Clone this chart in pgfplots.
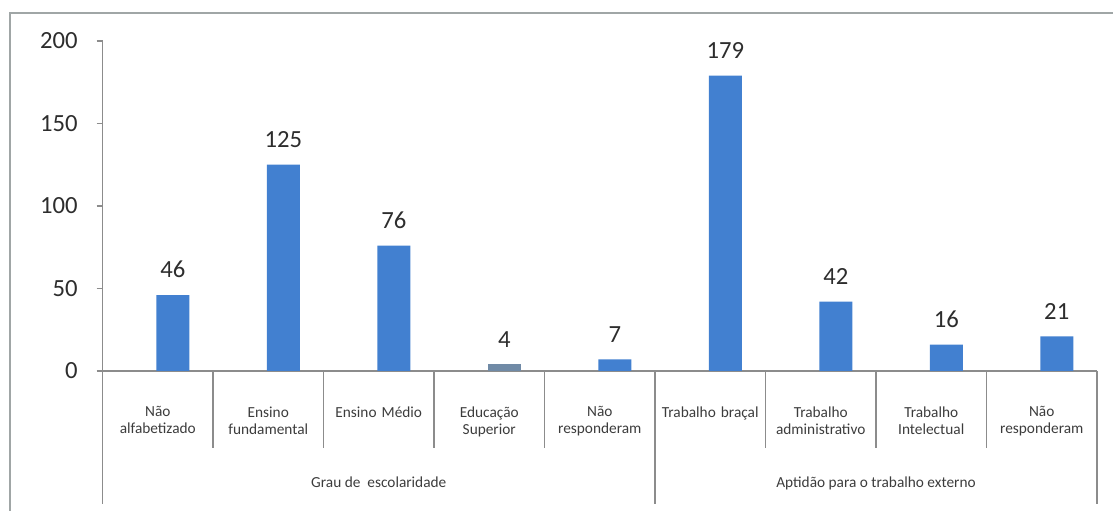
\documentclass[border=0pt]{standalone}
\usepackage{fontspec}
\setmainfont{Carlito}
\usepackage{pgfplots}
\pgfplotsset{compat=1.18}

\definecolor{barblue}{RGB}{66,128,208}
\definecolor{bargray}{RGB}{112,138,166}
\definecolor{framegray}{RGB}{160,166,166}
\definecolor{axisgray}{RGB}{140,140,140}
\definecolor{txt}{RGB}{45,45,45}
\definecolor{cattxt}{RGB}{60,60,60}

\begin{document}
\begin{tikzpicture}
\useasboundingbox (-76.9pt,-105pt) rectangle (757.9pt,278.25pt);
% outer chart frame (only top and left edges are visible)
\draw[framegray, line width=1.2pt] (-69.4pt,-110pt) -- (-69.4pt,268.5pt) -- (765pt,268.5pt);
\begin{axis}[
  at={(0,0)}, anchor=south west,
  scale only axis, width=745.9pt, height=247.5pt,
  xmin=-0.5, xmax=8.5, ymin=0, ymax=200,
  axis x line*=bottom, axis y line*=left,
  axis line style={axisgray, line width=1pt},
  ytick={0,50,...,200},
  ytick style={axisgray, line width=1pt},
  tick align=outside, major tick length=4.5pt,
  xtick={0,...,8},
  xtick style={draw=none},
  xticklabels={{Não\\alfabetizado},{Ensino\\fundamental},{Ensino Médio},{Educação\\Superior},{Não\\responderam},{Trabalho braçal},{Trabalho\\administrativo},{Trabalho\\Intelectual},{Não\\responderam}},
  xticklabel style={font=\fontsize{11.5}{12.75}\selectfont, text=cattxt, align=center, text width=82pt, anchor=north, inner sep=0pt, yshift=-22pt},
  yticklabel style={font=\fontsize{18.5}{22}\selectfont, text=txt, anchor=east, inner sep=0pt, xshift=-14pt},
  /pgf/number format/assume math mode=true,
  ybar, bar width=24.75pt,
  nodes near coords,
  every node near coord/.append style={font=\fontsize{18.5}{22}\selectfont, text=txt, anchor=south, inner sep=0pt, yshift=12.75pt},
  clip=false,
]
\addplot[fill=barblue, draw=none, bar shift=11.25pt] coordinates {
  (0,46) (1,125) (2,76) (4,7) (5,179) (6,42) (7,16) (8,21)
};
\addplot[fill=bargray, draw=none, bar shift=11.25pt] coordinates {(3,4)};
% category separators
\pgfplotsinvokeforeach{0.5,1.5,2.5,3.5,5.5,6.5,7.5}{
  \draw[axisgray, line width=1pt] (axis cs:#1,0) -- ++(0pt,-57.75pt);
}
% group separators
\pgfplotsinvokeforeach{-0.5,4.5,8.5}{
  \draw[axisgray, line width=1pt] (axis cs:#1,0) -- ++(0pt,-99.75pt);
}
\node[anchor=base, font=\fontsize{11.5}{13}\selectfont, text=cattxt] at ([yshift=-87.75pt]axis cs:2,0) {Grau de\ \ escolaridade};
\node[anchor=base, font=\fontsize{11.5}{13}\selectfont, text=cattxt] at ([yshift=-87.75pt]axis cs:6.5,0) {Aptidão para o trabalho externo};
\end{axis}
\end{tikzpicture}
\end{document}
